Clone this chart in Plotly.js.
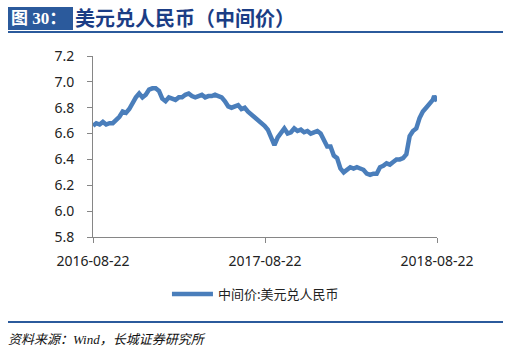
<!DOCTYPE html>
<html>
<head>
<meta charset="utf-8">
<script src="https://cdn.plot.ly/plotly-3.0.1.min.js"></script>
<style>
  html, body { margin: 0; padding: 0; background: #fff; }
  body { width: 515px; height: 353px; position: relative; overflow: hidden; }
  #titlebox { position: absolute; left: 8px; top: 7px; width: 65px; height: 23px; background: #2b5a9c;
    color: #fff; font: bold 17px "Liberation Serif", "Noto Sans CJK SC", serif; line-height: 23px; padding-left: 3px; box-sizing: border-box; white-space: nowrap; }
  #titletext { position: absolute; left: 75px; top: 5px; color: #1b3d85; font: bold 20px "Noto Sans CJK SC", sans-serif; line-height: 26px; white-space: nowrap; }
  #topline { position: absolute; left: 8px; top: 31px; width: 495px; height: 2px; background: #2b5a9c; }
  #chart { position: absolute; left: 0; top: 0; width: 490px; height: 353px; }
  #botline { position: absolute; left: 8px; top: 321px; width: 495px; height: 1.5px; background: #2b5a9c; }
  #source { position: absolute; left: 8px; top: 329px; font: italic 13px "Liberation Serif", "Noto Sans CJK SC", serif; color: #111; white-space: nowrap; }
</style>
</head>
<body>
<div id="chart"></div>
<div id="titlebox">图 30：</div>
<div id="titletext">美元兑人民币（中间价）</div>
<div id="topline"></div>
<div id="botline"></div>
<div id="source">资料来源：Wind，长城证券研究所</div>
<script>
const dates = [
  '2016-08-22','2016-08-29','2016-09-05','2016-09-12','2016-09-19','2016-09-26','2016-10-03','2016-10-10',
  '2016-10-17','2016-10-24','2016-10-31','2016-11-07','2016-11-14','2016-11-21','2016-11-28','2016-12-05',
  '2016-12-12','2016-12-19','2016-12-26','2017-01-02','2017-01-09','2017-01-16','2017-01-23','2017-01-30',
  '2017-02-06','2017-02-13','2017-02-20','2017-02-27','2017-03-06','2017-03-13','2017-03-20','2017-03-27',
  '2017-04-03','2017-04-10','2017-04-17','2017-04-24','2017-05-01','2017-05-08','2017-05-15','2017-05-22',
  '2017-05-29','2017-06-05','2017-06-12','2017-06-19','2017-06-26','2017-07-03','2017-07-10','2017-07-17',
  '2017-07-24','2017-07-31','2017-08-07','2017-08-14','2017-08-21','2017-08-28','2017-09-04','2017-09-11',
  '2017-09-18','2017-09-25','2017-10-02','2017-10-09','2017-10-16','2017-10-23','2017-10-30','2017-11-06',
  '2017-11-13','2017-11-20','2017-11-27','2017-12-04','2017-12-11','2017-12-18','2017-12-25','2018-01-01',
  '2018-01-08','2018-01-15','2018-01-22','2018-01-29','2018-02-05','2018-02-12','2018-02-19','2018-02-26',
  '2018-03-05','2018-03-12','2018-03-19','2018-03-26','2018-04-02','2018-04-09','2018-04-16','2018-04-23',
  '2018-04-30','2018-05-07','2018-05-14','2018-05-21','2018-05-28','2018-06-04','2018-06-11','2018-06-18',
  '2018-06-25','2018-07-02','2018-07-09','2018-07-16','2018-07-23','2018-07-30','2018-08-06','2018-08-13',
  '2018-08-16','2018-08-20','2018-08-22'
];
const midRate = [
  6.66, 6.68, 6.67, 6.69, 6.67, 6.68, 6.68, 6.70,
  6.73, 6.77, 6.76, 6.79, 6.84, 6.88, 6.91, 6.88,
  6.90, 6.94, 6.95, 6.95, 6.93, 6.87, 6.85, 6.88,
  6.87, 6.86, 6.88, 6.88, 6.90, 6.91, 6.89, 6.88,
  6.89, 6.90, 6.88, 6.89, 6.89, 6.90, 6.89, 6.88,
  6.85, 6.81, 6.80, 6.81, 6.82, 6.79, 6.80, 6.77,
  6.75, 6.73, 6.71, 6.68, 6.66, 6.63, 6.56, 6.51,
  6.57, 6.61, 6.64, 6.60, 6.61, 6.64, 6.62, 6.63,
  6.61, 6.62, 6.60, 6.61, 6.62, 6.60, 6.55, 6.50,
  6.50, 6.43, 6.41, 6.33, 6.30, 6.32, 6.34, 6.33,
  6.34, 6.33, 6.32, 6.29, 6.28, 6.29, 6.29, 6.34,
  6.35, 6.37, 6.36, 6.38, 6.40, 6.40, 6.41, 6.44,
  6.58, 6.62, 6.64, 6.72, 6.77, 6.80, 6.83, 6.86,
  6.89, 6.87, 6.85
];
const xTicks = ['2016-08-22', '2017-08-22', '2018-08-22'];
const seriesName = '中间价:美元兑人民币';

const trace = {
  x: dates, y: midRate, type: 'scatter', mode: 'lines', name: seriesName,
  line: { color: '#4a7ebb', width: 4.5 }
};
const layout = {
  width: 490, height: 353,
  margin: { l: 93, r: 53, t: 56, b: 116 },
  paper_bgcolor: '#fff', plot_bgcolor: '#fff',
  font: { family: '"Noto Sans", "Noto Sans CJK SC", sans-serif', size: 14, color: '#222' },
  showlegend: true,
  legend: { orientation: 'h', x: 0.215, xanchor: 'left', y: -0.315, yanchor: 'middle', itemwidth: 41,
    font: { family: '"Noto Sans CJK SC", sans-serif', size: 13, color: '#222' } },
  xaxis: {
    type: 'date', range: ['2016-08-22', '2018-08-22'],
    tickmode: 'array', tickvals: xTicks, ticktext: xTicks, ticklabeloverflow: 'allow',
    showgrid: false, zeroline: false, showline: true, linecolor: '#868686', linewidth: 1,
    ticks: 'outside', ticklen: 5, tickcolor: '#868686', ticklabelstandoff: 6
  },
  yaxis: {
    range: [5.8, 7.2], dtick: 0.2, tick0: 5.8, tickformat: '.1f',
    showgrid: false, zeroline: false, showline: true, linecolor: '#868686', linewidth: 1,
    ticks: 'outside', ticklen: 5, tickcolor: '#868686', ticklabelstandoff: 10
  }
};
Plotly.newPlot('chart', [trace], layout, { displayModeBar: false, staticPlot: true });
</script>
</body>
</html>
